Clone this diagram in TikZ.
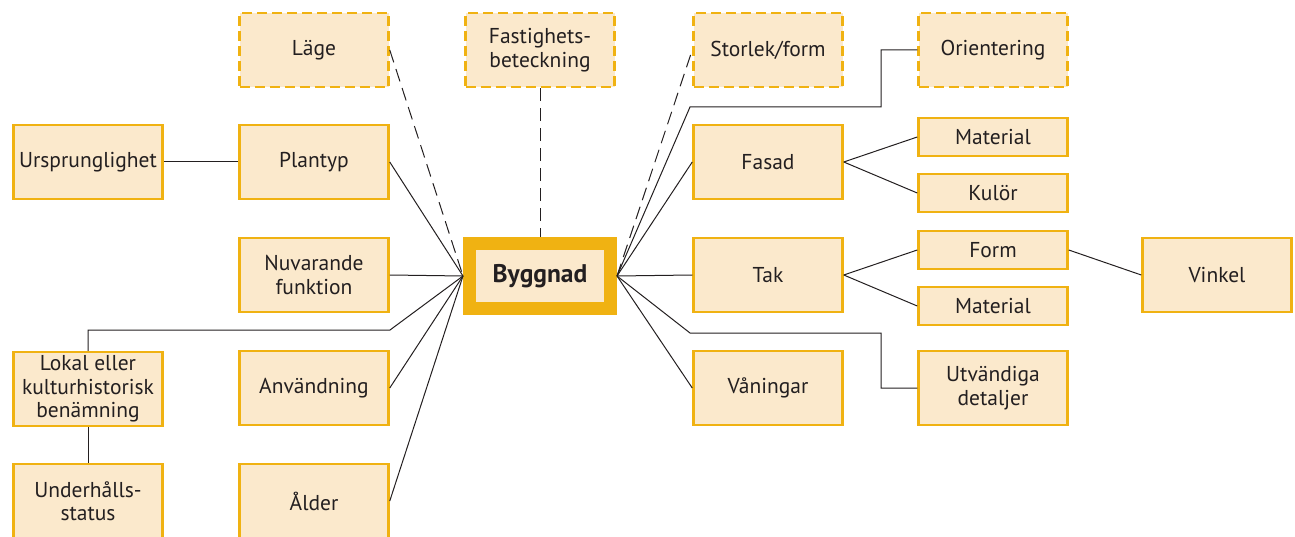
\documentclass[tikz,border=0pt]{standalone}
\usepackage{fontspec}
\setmainfont{PT Sans}
\usetikzlibrary{calc}
\definecolor{boxgold}{RGB}{240,178,18}
\definecolor{boxfill}{RGB}{251,233,204}
\definecolor{ink}{RGB}{35,31,32}
\tikzset{
  box/.style={draw=boxgold, fill=boxfill, line width=2.5pt, align=center,
    text=ink, inner sep=1pt, minimum width=149pt, minimum height=74pt,
    font=\fontsize{21.5}{23.5}\selectfont},
  smallbox/.style={box, minimum height=38pt},
  optbox/.style={box, dash pattern=on 10pt off 5pt},
  centerbox/.style={draw=boxgold, fill=boxfill, line width=13pt, text=ink,
    minimum width=141pt, minimum height=65pt,
    font=\fontsize{25.5}{28}\selectfont\bfseries},
  link/.style={draw=ink, line width=1pt},
  optlink/.style={link, dash pattern=on 13pt off 7pt},
}
\begin{document}
\begin{tikzpicture}[x=1pt, y=-1pt]
\useasboundingbox (0,0) rectangle (1295,537);

% centre
\node[centerbox] (bygg) at (540,276) {Byggnad};

% top row (optional attributes)
\node[optbox] (lage) at (314,50) {Läge};
\node[optbox] (fast) at (540,50) {Fastighets-\\beteckning};
\node[optbox] (storlek) at (768,50) {Storlek/form};
\node[optbox] (orient) at (993,50) {Orientering};

% left side
\node[box] (urspr) at (88,162) {Ursprunglighet};
\node[box] (plantyp) at (314,162) {Plantyp};
\node[box] (nuv) at (314,275) {Nuvarande\\funktion};
\node[box] (lokal) at (88,389) {Lokal eller\\kulturhistorisk\\benämning};
\node[box] (anv) at (314,388) {Användning};
\node[box] (underh) at (88,501) {Underhålls-\\status};
\node[box] (alder) at (314,501) {Ålder};

% right side
\node[box] (fasad) at (768,162) {Fasad};
\node[smallbox] (mat1) at (993,137) {Material};
\node[smallbox] (kulor) at (993,193) {Kulör};
\node[box] (tak) at (768,275) {Tak};
\node[smallbox] (form) at (993,250) {Form};
\node[smallbox] (mat2) at (993,306) {Material};
\node[box] (vinkel) at (1217,275) {Vinkel};
\node[box] (van) at (768,388) {Våningar};
\node[box] (utv) at (993,388) {Utvändiga\\detaljer};

% connectors, left
\draw[link] (urspr.east) -- (plantyp.west);
\draw[link] (plantyp.east) -- (bygg.west);
\draw[link] (nuv.east) -- (bygg.west);
\draw[link] (anv.east) -- (bygg.west);
\draw[link] (alder.east) -- (bygg.west);
\draw[optlink] (lage.east) -- (bygg.west);
\draw[link] (bygg.west) -- ++(-73,54) -| (lokal.north);
\draw[link] (lokal.south) -- (underh.north);

% connectors, top
\draw[optlink] (fast.south) -- (bygg.north);

% connectors, right
\draw[optlink] (bygg.east) -- (storlek.west);
\draw[link] (bygg.east) -- ++(73,-169) -- ++(191,0) |- (orient.west);
\draw[link] (bygg.east) -- (fasad.west);
\draw[link] (bygg.east) -- (tak.west);
\draw[link] (bygg.east) -- (van.west);
\draw[link] (bygg.east) -- ++(73,57) -- ++(191,0) |- (utv.west);
\draw[link] (fasad.east) -- (mat1.west);
\draw[link] (fasad.east) -- (kulor.west);
\draw[link] (tak.east) -- (form.west);
\draw[link] (tak.east) -- (mat2.west);
\draw[link] (form.east) -- (vinkel.west);
\end{tikzpicture}
\end{document}
